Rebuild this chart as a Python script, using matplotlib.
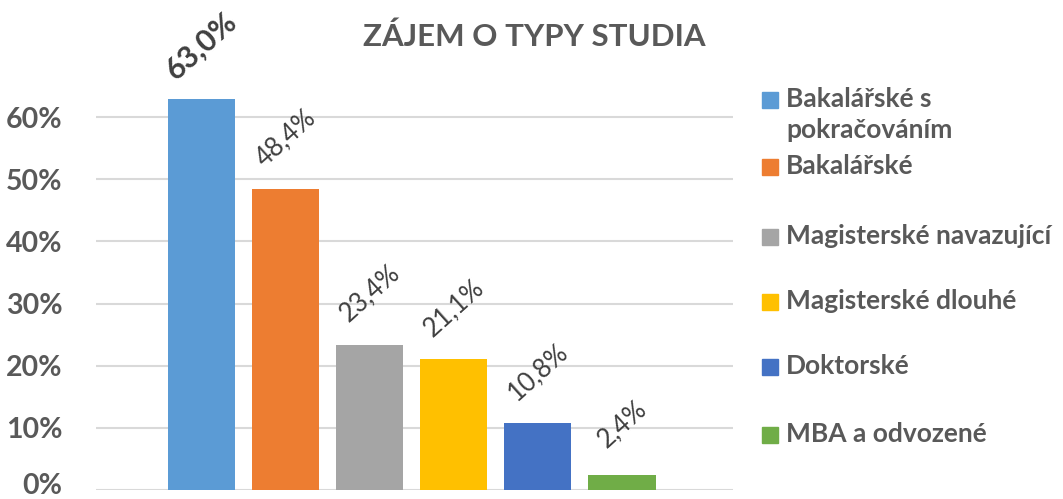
import matplotlib
matplotlib.use("Agg")
import matplotlib.pyplot as plt
from matplotlib.patches import Rectangle
from matplotlib.transforms import ScaledTranslation

plt.rcParams['font.family'] = ['Lato', 'DejaVu Sans']

categories = ["Bakalářské s\npokračováním", "Bakalářské", "Magisterské navazující",
              "Magisterské dlouhé", "Doktorské", "MBA a odvozené"]
values = [0.630, 0.484, 0.234, 0.211, 0.108, 0.024]
labels = ["63,0%", "48,4%", "23,4%", "21,1%", "10,8%", "2,4%"]
colors = ["#5B9BD5", "#ED7D31", "#A5A5A5", "#FFC000", "#4472C4", "#70AD47"]
yticks = [0, 0.1, 0.2, 0.3, 0.4, 0.5, 0.6]
ytick_labels = ["0%", "10%", "20%", "30%", "40%", "50%", "60%"]
title = "ZÁJEM O TYPY STUDIA"

W, H = 1063, 499
fig = plt.figure(figsize=(W / 100, H / 100), dpi=100)
ax = fig.add_axes([96 / W, 1 - 490 / H, (733 - 96) / W, (490 - 55) / H])

x = list(range(len(values)))
ax.bar(x, values, width=0.8, color=colors, zorder=3)
ax.set_xlim(-1.25, 6.32)
ax.set_ylim(0, 0.70)
ax.set_yticks(yticks)
ax.set_yticklabels(ytick_labels)
ax.set_xticks([])
for s in ax.spines.values():
    s.set_visible(False)
ax.grid(axis='y', color='#D9D9D9', linewidth=1.5, zorder=0)
ax.tick_params(axis='y', length=0, pad=24, labelsize=20.5, labelcolor='#595959')
for t in ax.get_yticklabels():
    t.set_fontweight('bold')
fig.canvas.draw()
zero = ax.get_yticklabels()[0]
zero.set_transform(zero.get_transform() + ScaledTranslation(0, 5 / 72, fig.dpi_scale_trans))

for i, (v, lab) in enumerate(zip(values, labels)):
    if i == 0:
        ax.annotate(lab, (i, v), xytext=(0, 38), textcoords='offset points',
                    ha='center', va='center', rotation=42, fontsize=22,
                    fontweight='bold', color='#404040')
    else:
        ax.annotate(lab, (i, v), xytext=(0, 37), textcoords='offset points',
                    ha='center', va='center', rotation=42, fontsize=18.5,
                    color='#404040')

fig.text(534 / W, 1 - 37 / H, title, ha='center', va='center', fontsize=22.5,
         fontweight='bold', color='#595959')

leg_y = [100, 167, 237, 302, 367, 435]
for cat, col, yy in zip(categories, colors, leg_y):
    fig.patches.append(Rectangle((762 / W, 1 - (yy + 8) / H), 16 / W, 16 / H,
                                 transform=fig.transFigure, color=col))
    fig.text(786 / W, 1 - (yy - 13) / H, cat, ha='left', va='top', fontsize=19,
             fontweight='bold', color='#595959', linespacing=1.35)

fig.savefig("out.png", dpi=100)
